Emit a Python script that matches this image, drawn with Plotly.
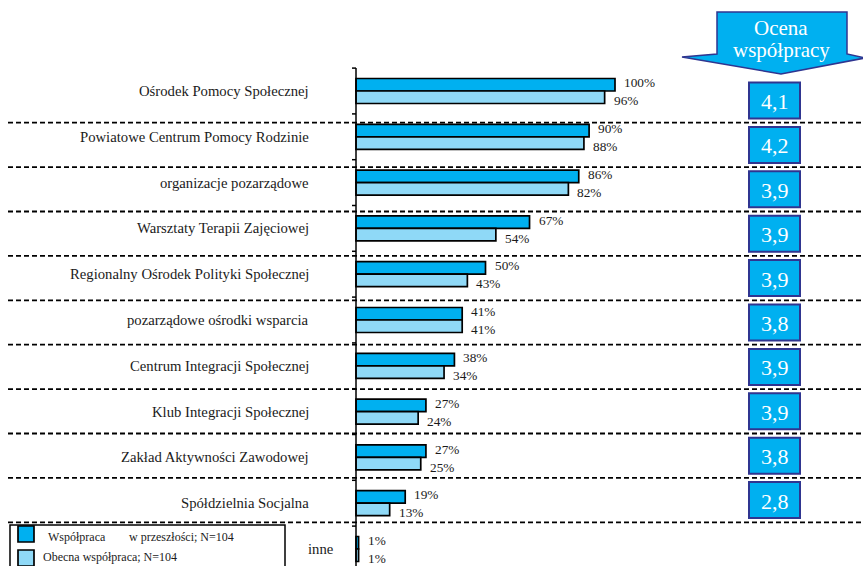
import plotly.graph_objects as go

# --- data -----------------------------------------------------------------
categories = [
    "Ośrodek Pomocy Społecznej",
    "Powiatowe Centrum Pomocy Rodzinie",
    "organizacje pozarządowe",
    "Warsztaty Terapii Zajęciowej",
    "Regionalny Ośrodek Polityki Społecznej",
    "pozarządowe ośrodki wsparcia",
    "Centrum Integracji Społecznej",
    "Klub Integracji Społecznej",
    "Zakład Aktywności Zawodowej",
    "Spółdzielnia Socjalna",
    "inne",
]
past_coop = [100, 90, 86, 67, 50, 41, 38, 27, 27, 19, 1]
current_coop = [96, 88, 82, 54, 43, 41, 34, 24, 25, 13, 1]
ratings = ["4,1", "4,2", "3,9", "3,9", "3,9", "3,8", "3,9", "3,9", "3,8", "2,8"]
rating_header = ["Ocena", "współpracy"]
legend_past = ["Współpraca", "w przeszłości; N=104"]
legend_current = "Obecna współpraca; N=104"

# --- geometry & style -----------------------------------------------------
W, H = 863, 566
AXIS_X = 356          # pixel column of the value axis (0 %)
PX_PER_PCT = 2.59     # pixels per percentage point
ROW0, ROW_STEP = 91, 45.8
TABLE_TOP, CELL = 78.3, 44.4

DARK = "#00B0F0"
LIGHT = "#8FD9F7"
NAVY = "#2F3590"
FONT = "Liberation Serif"
TXT = "#1a1a1a"


def px(x):
    return x / W


def py(y):
    return 1 - y / H


rows = list(range(len(categories)))
x_range = [-AXIS_X / PX_PER_PCT, (W - AXIS_X) / PX_PER_PCT]
y_range = [(H - ROW0) / ROW_STEP, -ROW0 / ROW_STEP]

fig = go.Figure()
fig.add_trace(go.Bar(
    y=rows, x=past_coop, orientation="h", name=" ".join(legend_past),
    marker=dict(color=DARK, line=dict(color="black", width=1.7)),
))
fig.add_trace(go.Bar(
    y=rows, x=current_coop, orientation="h", name=legend_current,
    marker=dict(color=LIGHT, line=dict(color="black", width=1.7)),
))

shapes = []
annotations = []

# dashed table rules
for k in range(1, len(ratings) + 1):
    yy = TABLE_TOP + CELL * k
    shapes.append(dict(type="line", xref="paper", yref="paper", layer="below",
                       x0=px(8), x1=1, y0=py(yy), y1=py(yy),
                       line=dict(color="black", width=1.8, dash="5px,3px")))

# value axis line and ticks
shapes.append(dict(type="line", xref="paper", yref="y",
                   x0=px(AXIS_X), x1=px(AXIS_X), y0=-0.5, y1=y_range[0],
                   line=dict(color="black", width=1.5)))
for i in rows:
    shapes.append(dict(type="line", xref="paper", yref="y",
                       x0=px(AXIS_X - 4), x1=px(AXIS_X), y0=i - 0.5, y1=i - 0.5,
                       line=dict(color="black", width=1.5)))

# category labels
for i, name in enumerate(categories):
    x_right = 336 if name == "inne" else 311
    annotations.append(dict(xref="paper", yref="y", x=px(x_right), y=i,
                            text=name, showarrow=False, xanchor="right",
                            yanchor="middle",
                            font=dict(family=FONT, size=14.7, color=TXT)))

# value labels
half = 0.1365
for i, (a, b) in enumerate(zip(past_coop, current_coop)):
    annotations.append(dict(xref="x", yref="y", x=a, y=i - half, text=f"{a}%",
                            showarrow=False, xanchor="left", yanchor="middle",
                            xshift=7, yshift=2,
                            font=dict(family=FONT, size=13.3, color=TXT)))
    annotations.append(dict(xref="x", yref="y", x=b, y=i + half, text=f"{b}%",
                            showarrow=False, xanchor="left", yanchor="middle",
                            xshift=7, yshift=-3.5,
                            font=dict(family=FONT, size=13.3, color=TXT)))

# rating header arrow
arrow_pts = [(717, 12), (847, 12), (847, 54), (865, 58), (781, 74),
             (682, 57), (717, 54)]
path = "M " + " L ".join(f"{px(x):.5f},{py(y):.5f}" for x, y in arrow_pts) + " Z"
shapes.append(dict(type="path", xref="paper", yref="paper", path=path,
                   fillcolor=DARK, line=dict(color=NAVY, width=1.5)))
for text, yy in zip(rating_header, [28, 50]):
    annotations.append(dict(xref="paper", yref="paper", x=px(781), y=py(yy),
                            text=text, showarrow=False, xanchor="center",
                            yanchor="middle",
                            font=dict(family=FONT, size=21, color="white")))

# rating boxes
for k, r in enumerate(ratings):
    cy = TABLE_TOP + CELL * k + CELL / 2
    shapes.append(dict(type="rect", xref="paper", yref="paper",
                       x0=px(749), x1=px(800), y0=py(cy - 18), y1=py(cy + 18),
                       fillcolor=DARK, line=dict(color=NAVY, width=2)))
    annotations.append(dict(xref="paper", yref="paper", x=px(774.5), y=py(cy + 1),
                            text=r, showarrow=False, xanchor="center",
                            yanchor="middle",
                            font=dict(family=FONT, size=22, color="white")))

# legend box
shapes.append(dict(type="rect", xref="paper", yref="paper",
                   x0=px(10), x1=px(285), y0=py(525), y1=py(572),
                   fillcolor="white", line=dict(color="black", width=1.5)))
for color, y0 in [(DARK, 526), (LIGHT, 550)]:
    shapes.append(dict(type="rect", xref="paper", yref="paper",
                       x0=px(18), x1=px(34), y0=py(y0), y1=py(y0 + 16),
                       fillcolor=color, line=dict(color="black", width=1.7)))
leg_font = dict(family=FONT, size=12, color=TXT)
annotations.append(dict(xref="paper", yref="paper", x=px(46), y=py(537),
                        text=legend_past[0], showarrow=False, xanchor="left",
                        yanchor="middle", font=leg_font))
annotations.append(dict(xref="paper", yref="paper", x=px(127), y=py(537),
                        text=legend_past[1], showarrow=False, xanchor="left",
                        yanchor="middle", font=leg_font))
annotations.append(dict(xref="paper", yref="paper", x=px(41), y=py(557),
                        text=legend_current, showarrow=False, xanchor="left",
                        yanchor="middle", font=leg_font))

fig.update_layout(
    width=W, height=H,
    margin=dict(l=0, r=0, t=0, b=0),
    paper_bgcolor="white", plot_bgcolor="white",
    barmode="group", bargap=0.454, bargroupgap=0,
    showlegend=False,
    xaxis=dict(range=x_range, visible=False, fixedrange=True),
    yaxis=dict(range=y_range, visible=False, fixedrange=True),
    shapes=shapes, annotations=annotations,
)

fig.write_html("out.html")
